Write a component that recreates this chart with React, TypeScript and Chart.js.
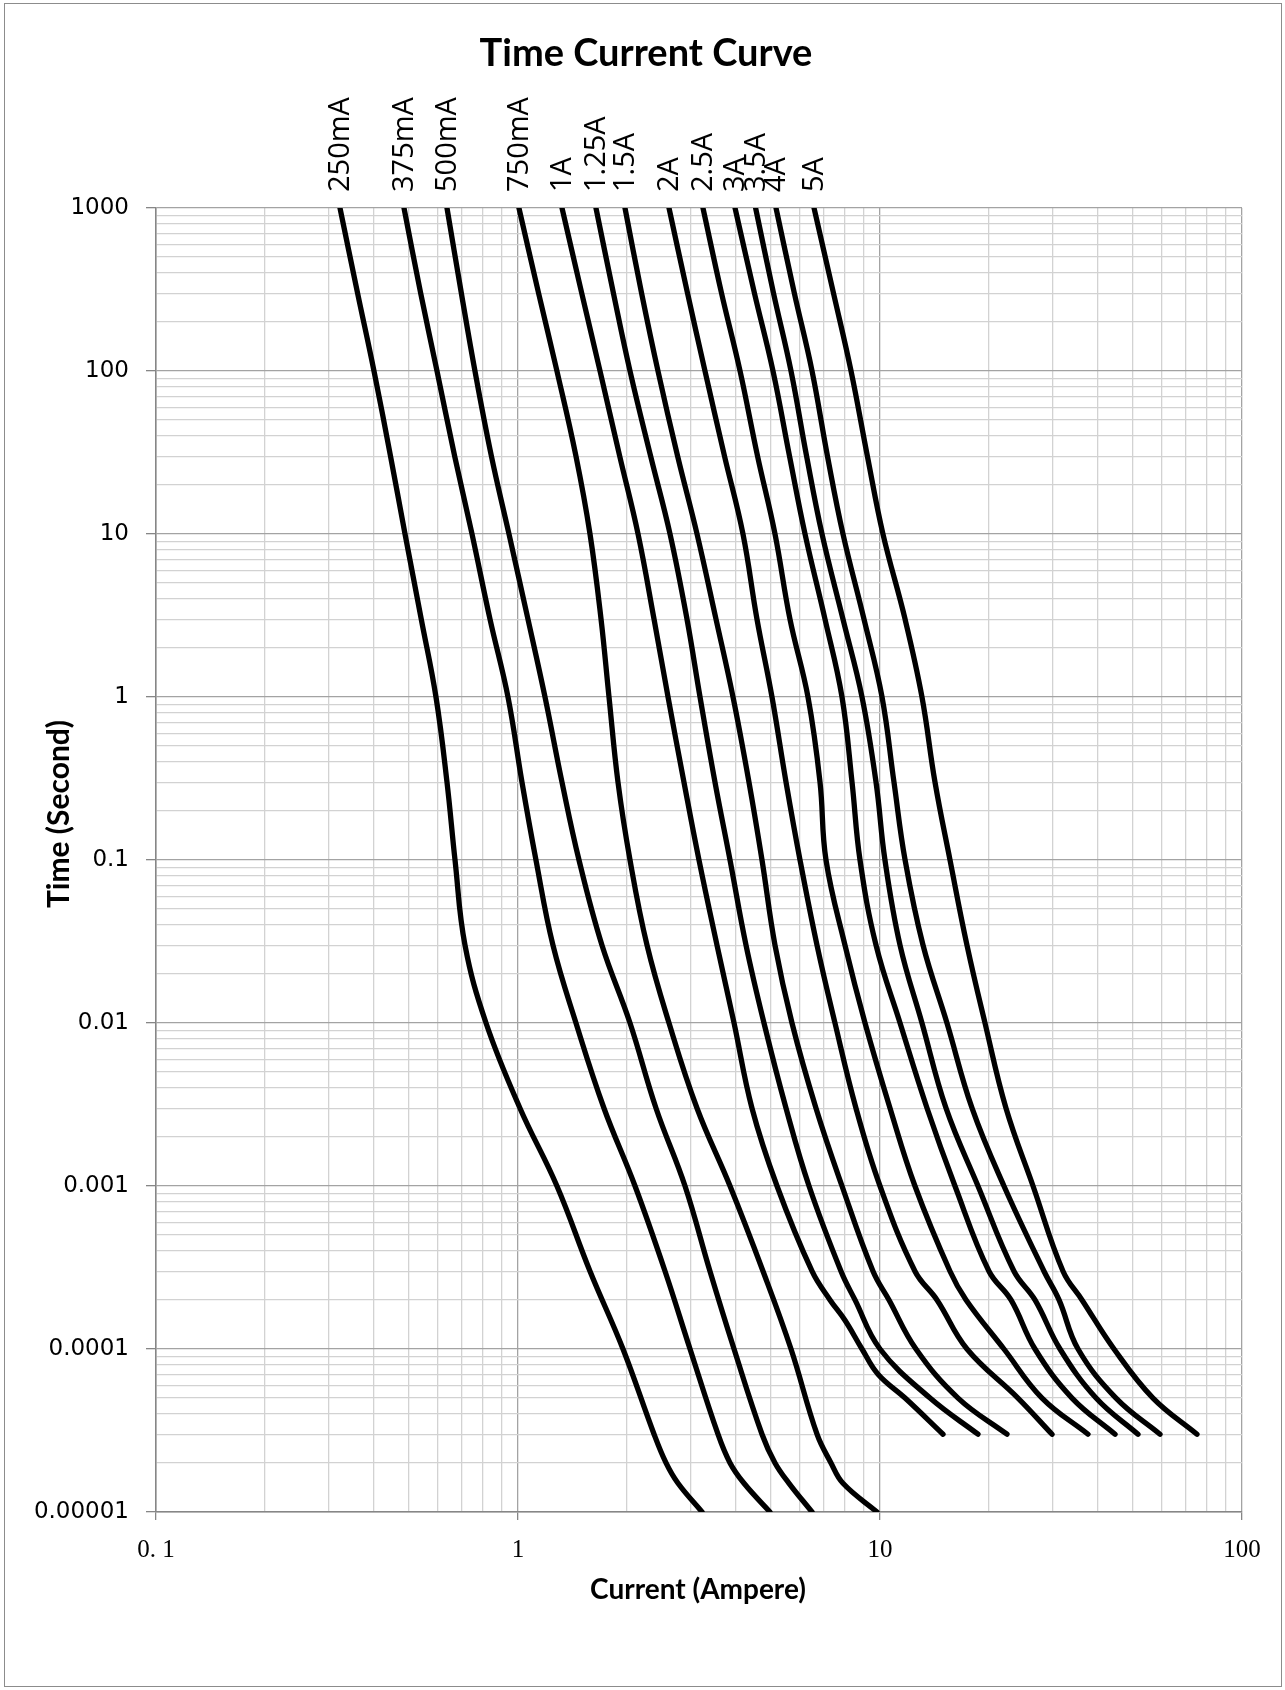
import React, { useEffect, useRef } from 'react';
import { Chart, registerables } from 'chart.js';

Chart.register(...registerables);

const chartTitle = 'Time Current Curve';
const xAxisTitle = 'Current (Ampere)';
const yAxisTitle = 'Time (Second)';

const seriesLabels = ['250mA', '375mA', '500mA', '750mA', '1A', '1.25A', '1.5A', '2A', '2.5A', '3A', '3.5A', '4A', '5A'];

const xTickValues = [0.1, 1, 10, 100];
const xTickLabels = ['0. 1', '1', '10', '100'];
const yTickValues = [0.00001, 0.0001, 0.001, 0.01, 0.1, 1, 10, 100, 1000];
const yTickLabels = ['0.00001', '0.0001', '0.001', '0.01', '0.1', '1', '10', '100', '1000'];

// [current (A), time (s)]
const s250mA = [[0.3223, 1000], [0.3605, 300], [0.4001, 100], [0.4445, 30], [0.4874, 10], [0.5405, 3], [0.5935, 1], [0.6366, 0.3], [0.6699, 0.1], [0.7139, 0.03], [0.816, 0.01], [1.0128, 0.003], [1.281, 0.001], [1.581, 0.0003], [1.95, 0.0001], [2.376, 0.00003], [2.564, 0.00002], [2.767, 0.000015], [3.224, 0.00001]];
const s375mA = [[0.4843, 1000], [0.5385, 300], [0.5974, 100], [0.6685, 30], [0.7464, 10], [0.837, 3], [0.9383, 1], [1.0257, 0.3], [1.121, 0.1], [1.249, 0.03], [1.446, 0.01], [1.728, 0.003], [2.105, 0.001], [2.548, 0.0003], [2.987, 0.0001], [3.568, 0.00003], [3.852, 0.00002], [4.21, 0.000015], [4.967, 0.00001]];
const s500mA = [[0.6366, 1000], [0.6975, 300], [0.7605, 100], [0.8445, 30], [0.9443, 10], [1.0656, 3], [1.1874, 1], [1.323, 0.3], [1.474, 0.1], [1.706, 0.03], [2.039, 0.01], [2.406, 0.003], [2.893, 0.001], [3.391, 0.0003], [3.952, 0.0001], [4.721, 0.00003], [5.128, 0.00002], [5.606, 0.000015], [6.49, 0.00001]];
const s750mA = [[1.006, 1000], [1.14, 300], [1.281, 100], [1.446, 30], [1.581, 10], [1.696, 3], [1.784, 1], [1.889, 0.3], [2.039, 0.1], [2.272, 0.03], [2.613, 0.01], [3.123, 0.003], [3.852, 0.001], [4.752, 0.0003], [5.678, 0.0001], [6.699, 0.00003], [7.322, 0.00002], [7.902, 0.000015], [9.811, 0.00001]];
const s1A = [[1.323, 1000], [1.5, 300], [1.685, 100], [1.91, 30], [2.146, 10], [2.376, 3], [2.597, 1], [2.874, 0.3], [3.162, 0.1], [3.546, 0.03], [3.952, 0.01], [4.43, 0.003], [5.194, 0.001], [6.49, 0.0003], [7.277, 0.0002], [8.003, 0.00015], [8.918, 0.0001], [9.874, 0.00007], [11.73, 0.00005], [14.93, 0.00003]];
const s1_25A = [[1.642, 1000], [1.835, 300], [2.039, 100], [2.325, 30], [2.63, 10], [2.93, 3], [3.183, 1], [3.501, 0.3], [3.852, 0.1], [4.265, 0.03], [4.781, 0.01], [5.501, 0.003], [6.367, 0.001], [7.804, 0.0003], [8.53, 0.0002], [10.0, 0.0001], [13.75, 0.00005], [18.65, 0.00003]];
const s1_5A = [[1.975, 1000], [2.195, 300], [2.436, 100], [2.76, 30], [3.123, 10], [3.524, 3], [3.926, 1], [4.346, 0.3], [4.721, 0.1], [5.128, 0.03], [5.713, 0.01], [6.656, 0.003], [7.853, 0.001], [9.565, 0.0003], [10.59, 0.0002], [12.57, 0.0001], [16.43, 0.00005], [22.43, 0.00003]];
const s2A = [[2.613, 1000], [2.94, 300], [3.285, 100], [3.72, 30], [4.183, 10], [4.573, 3], [5.031, 1], [5.501, 0.3], [6.012, 0.1], [6.699, 0.03], [7.51, 0.01], [8.584, 0.003], [10.0, 0.001], [12.49, 0.0003], [14.37, 0.0002], [17.39, 0.0001], [24.05, 0.00005], [29.87, 0.00003]];
const s2_5A = [[3.243, 1000], [3.65, 300], [4.106, 100], [4.59, 30], [5.128, 10], [5.641, 3], [6.325, 1], [6.828, 0.3], [7.093, 0.1], [8.003, 0.03], [9.091, 0.01], [10.66, 0.003], [12.49, 0.001], [15.61, 0.0003], [17.29, 0.0002], [22.0, 0.0001], [28.03, 0.00005], [37.55, 0.00003]];
const s3A = [[3.977, 1000], [4.5, 300], [5.063, 100], [5.625, 30], [6.207, 10], [7.049, 3], [7.853, 1], [8.371, 0.3], [8.806, 0.1], [9.75, 0.03], [11.36, 0.01], [13.49, 0.003], [16.11, 0.001], [20.0, 0.0003], [23.01, 0.0002], [26.8, 0.0001], [33.92, 0.00005], [44.6, 0.00003]];
const s3_5A = [[4.533, 1000], [5.08, 300], [5.678, 100], [6.27, 30], [6.916, 10], [7.902, 3], [8.918, 1], [9.75, 0.3], [10.32, 0.1], [11.36, 0.03], [13.06, 0.01], [15.22, 0.003], [18.65, 0.001], [23.45, 0.0003], [26.8, 0.0002], [31.42, 0.0001], [39.52, 0.00005], [51.6, 0.00003]];
const s4A = [[5.161, 1000], [5.8, 300], [6.49, 100], [7.16, 30], [7.902, 10], [9.032, 3], [10.13, 1], [10.93, 0.3], [11.73, 0.1], [13.15, 0.03], [15.31, 0.01], [17.96, 0.003], [22.0, 0.001], [28.38, 0.0003], [31.23, 0.0002], [35.24, 0.0001], [44.87, 0.00005], [59.36, 0.00003]];
const s5A = [[6.573, 1000], [7.44, 300], [8.318, 100], [9.23, 30], [10.19, 10], [11.73, 3], [13.06, 1], [14.19, 0.3], [15.61, 0.1], [17.39, 0.03], [19.5, 0.01], [22.29, 0.003], [26.47, 0.001], [32.03, 0.0003], [36.14, 0.0002], [44.3, 0.0001], [56.77, 0.00005], [75.1, 0.00003]];

const seriesData = [s250mA, s375mA, s500mA, s750mA, s1A, s1_25A, s1_5A, s2A, s2_5A, s3A, s3_5A, s4A, s5A];

const isDecade = (v: number) => Math.abs(Math.log10(v) - Math.round(Math.log10(v))) < 1e-6;

const logGridTicks = (min: number, max: number) => {
  const out: { value: number }[] = [];
  const e0 = Math.round(Math.log10(min));
  const e1 = Math.round(Math.log10(max));
  for (let e = e0; e < e1; e++) {
    for (let m = 1; m < 10; m++) out.push({ value: m * Math.pow(10, e) });
  }
  out.push({ value: max });
  return out;
};

const labelFor = (values: number[], labels: string[], v: number) => {
  const i = values.findIndex((t) => Math.abs(Math.log10(t) - Math.log10(v)) < 1e-6);
  return i >= 0 ? labels[i] : '';
};

const textPlugin = {
  id: 'tccText',
  afterDraw(chart: any) {
    const { ctx, chartArea } = chart;
    ctx.save();
    ctx.fillStyle = '#000';
    ctx.textAlign = 'center';
    ctx.textBaseline = 'middle';
    ctx.font = 'bold 38px Lato';
    ctx.fillText(chartTitle, 646, 54);
    ctx.font = 'bold 28px Lato';
    ctx.fillText(xAxisTitle, 698, 1590);
    ctx.save();
    ctx.translate(59, 814);
    ctx.rotate(-Math.PI / 2);
    ctx.font = 'bold 30px Lato';
    ctx.fillText(yAxisTitle, 0, 0);
    ctx.restore();
    ctx.font = '29px "Open Sans"';
    ctx.textAlign = 'left';
    chart.data.datasets.forEach((ds: any, i: number) => {
      const p = chart.getDatasetMeta(i).data[0];
      ctx.save();
      ctx.translate(p.x, chartArea.top - 16);
      ctx.rotate(-Math.PI / 2);
      ctx.fillText(ds.label, 0, 1);
      ctx.restore();
    });
    ctx.restore();
  },
};

export default function App() {
  const canvasRef = useRef<HTMLCanvasElement | null>(null);

  useEffect(() => {
    document.body.style.margin = '0';
    const canvas = canvasRef.current;
    if (!canvas) return;
    const gridColor = (c: any) => (c.tick && isDecade(c.tick.value) ? '#a3a3a3' : '#d2d2d2');
    const tickColor = (c: any) => (c.tick && isDecade(c.tick.value) ? '#868686' : 'rgba(0,0,0,0)');
    const chart = new Chart(canvas, {
      type: 'scatter',
      data: {
        datasets: seriesData.map((s, i) => ({
          label: seriesLabels[i],
          data: s.map(([x, y]) => ({ x, y })),
          showLine: true,
          borderColor: '#000',
          backgroundColor: '#000',
          borderWidth: 5.3,
          pointRadius: 0,
          tension: 0.4,
          borderCapStyle: 'round',
          borderJoinStyle: 'round',
        })),
      },
      options: {
        animation: false,
        responsive: false,
        devicePixelRatio: 1,
        layout: { padding: { top: 208, right: 43, left: 0, bottom: 0 } },
        plugins: { legend: { display: false }, tooltip: { enabled: false }, title: { display: false } },
        scales: {
          x: {
            type: 'logarithmic',
            position: 'bottom',
            min: 0.1,
            max: 100,
            afterFit: (s: any) => { s.height = 178; },
            afterBuildTicks: (s: any) => { s.ticks = logGridTicks(0.1, 100); },
            grid: { color: gridColor, lineWidth: 1.3, drawTicks: true, tickLength: 8, tickColor },
            border: { display: true, color: '#868686', width: 1.5 },
            ticks: {
              autoSkip: false,
              maxRotation: 0,
              padding: 15,
              color: '#000',
              font: { family: '"Liberation Serif"', size: 25 },
              callback: (v: any) => labelFor(xTickValues, xTickLabels, Number(v)),
            },
          },
          y: {
            type: 'logarithmic',
            position: 'left',
            min: 0.00001,
            max: 1000,
            afterFit: (s: any) => { s.width = 156; },
            afterBuildTicks: (s: any) => { s.ticks = logGridTicks(0.00001, 1000); },
            grid: { color: gridColor, lineWidth: 1.3, drawTicks: true, tickLength: 10, tickColor },
            border: { display: true, color: '#868686', width: 1.5 },
            ticks: {
              autoSkip: false,
              padding: 17,
              color: '#000',
              font: { family: '"DejaVu Sans"', size: 23 },
              callback: (v: any) => labelFor(yTickValues, yTickLabels, Number(v)),
            },
          },
        },
      },
      plugins: [textPlugin],
    } as any);
    return () => chart.destroy();
  }, []);

  return (
    <div style={{ position: 'relative', width: 1285, height: 1690, background: '#fff' }}>
      <canvas ref={canvasRef} width={1285} height={1690} style={{ position: 'absolute', left: 0, top: 0, width: 1285, height: 1690 }} />
      <div style={{ position: 'absolute', left: 4, top: 3, width: 1278, height: 1684, boxSizing: 'border-box', border: '1px solid #8c8c8c', pointerEvents: 'none' }} />
    </div>
  );
}
